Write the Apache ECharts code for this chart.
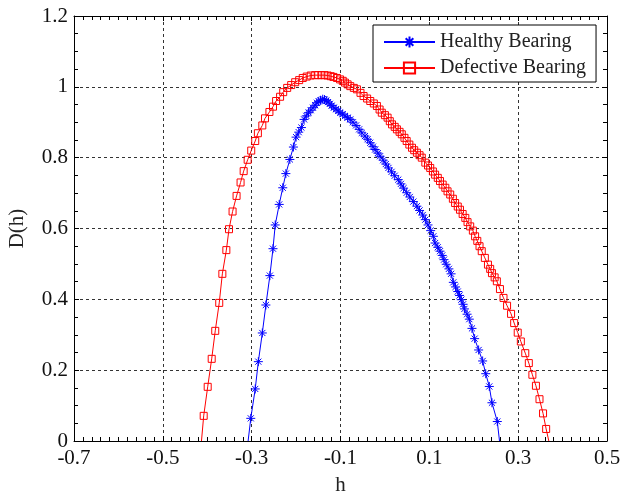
<!DOCTYPE html>
<html>
<head>
<meta charset="utf-8">
<script src="https://cdn.jsdelivr.net/npm/echarts@6/dist/echarts.min.js"></script>
<style>
html,body{margin:0;padding:0;background:#fff;}
#c{width:621px;height:495px;}
</style>
</head>
<body>
<div id="c"></div>
<script>
// Healthy bearing spectrum (h, D(h))
const healthyH = [-0.308,-0.302,-0.292,-0.285,-0.276,-0.268,-0.259,-0.252,-0.247,-0.238,-0.230,-0.223,-0.214,-0.206,-0.200,-0.194,-0.188,-0.182,-0.177,-0.172,-0.167,-0.162,-0.157,-0.153,-0.149,-0.145,-0.140,-0.136,-0.132,-0.128,-0.124,-0.120,-0.115,-0.110,-0.105,-0.101,-0.095,-0.090,-0.084,-0.078,-0.072,-0.065,-0.058,-0.052,-0.045,-0.039,-0.033,-0.027,-0.022,-0.016,-0.011,-0.004,0.002,0.008,0.015,0.022,0.030,0.036,0.042,0.049,0.056,0.064,0.072,0.078,0.085,0.091,0.097,0.103,0.109,0.113,0.119,0.124,0.129,0.133,0.138,0.144,0.149,0.154,0.159,0.164,0.168,0.172,0.176,0.179,0.185,0.190,0.196,0.202,0.211,0.220,0.227,0.235,0.241,0.253,0.258];
const healthyD = [0,0.064,0.147,0.224,0.305,0.384,0.467,0.543,0.610,0.668,0.715,0.755,0.795,0.830,0.858,0.872,0.885,0.908,0.918,0.927,0.934,0.941,0.948,0.955,0.959,0.962,0.965,0.964,0.961,0.957,0.952,0.947,0.941,0.937,0.932,0.927,0.923,0.918,0.913,0.908,0.900,0.891,0.880,0.870,0.861,0.852,0.842,0.831,0.823,0.813,0.804,0.793,0.782,0.771,0.760,0.749,0.738,0.726,0.714,0.701,0.689,0.676,0.663,0.651,0.638,0.625,0.610,0.594,0.578,0.559,0.547,0.536,0.524,0.512,0.499,0.486,0.472,0.448,0.435,0.422,0.411,0.399,0.386,0.373,0.358,0.344,0.318,0.289,0.257,0.226,0.190,0.154,0.108,0.055,0];

// Defective bearing spectrum (h, D(h))
const defectH = [-0.413,-0.408,-0.399,-0.390,-0.382,-0.373,-0.366,-0.357,-0.351,-0.343,-0.334,-0.325,-0.318,-0.309,-0.301,-0.292,-0.286,-0.276,-0.270,-0.260,-0.252,-0.245,-0.236,-0.229,-0.220,-0.211,-0.202,-0.193,-0.185,-0.176,-0.167,-0.157,-0.150,-0.143,-0.136,-0.129,-0.122,-0.116,-0.108,-0.101,-0.095,-0.090,-0.084,-0.078,-0.070,-0.063,-0.055,-0.048,-0.040,-0.033,-0.025,-0.018,-0.012,-0.007,0.000,0.006,0.011,0.016,0.022,0.027,0.033,0.038,0.044,0.049,0.055,0.061,0.066,0.072,0.078,0.083,0.091,0.097,0.102,0.108,0.113,0.119,0.124,0.130,0.136,0.141,0.147,0.153,0.158,0.164,0.169,0.175,0.181,0.186,0.192,0.198,0.203,0.208,0.213,0.218,0.225,0.232,0.237,0.241,0.247,0.252,0.259,0.267,0.275,0.284,0.291,0.299,0.306,0.316,0.324,0.332,0.340,0.348,0.356,0.363,0.369];
const defectD = [0,0.071,0.153,0.232,0.311,0.390,0.472,0.539,0.598,0.648,0.692,0.730,0.762,0.794,0.820,0.847,0.869,0.891,0.911,0.929,0.944,0.960,0.972,0.985,0.997,1.005,1.013,1.019,1.025,1.029,1.032,1.033,1.033,1.033,1.033,1.032,1.030,1.028,1.025,1.021,1.017,1.012,1.007,1.002,0.997,0.993,0.983,0.974,0.967,0.960,0.953,0.946,0.936,0.927,0.920,0.913,0.903,0.894,0.887,0.880,0.873,0.866,0.856,0.847,0.837,0.828,0.821,0.814,0.807,0.800,0.786,0.778,0.771,0.761,0.752,0.743,0.734,0.724,0.715,0.705,0.696,0.684,0.672,0.662,0.653,0.641,0.630,0.618,0.606,0.594,0.578,0.565,0.550,0.536,0.517,0.498,0.486,0.474,0.462,0.451,0.429,0.404,0.382,0.359,0.333,0.306,0.281,0.248,0.220,0.187,0.156,0.118,0.078,0.034,0];

const seriesNames = ['Healthy Bearing', 'Defective Bearing'];
const xLabel = 'h';
const yLabel = 'D(h)';

function pts(xs, ys) {
  return xs.map((x, i) => {
    const item = { value: [x, ys[i]] };
    if (ys[i] === 0) item.symbol = 'none';
    return item;
  });
}

const FONT = 'Liberation Serif';
const starPath = 'path://M5,0L5,10M0,5L10,5M1.6,1.6L8.4,8.4M8.4,1.6L1.6,8.4';

const gridLine = { show: true, lineStyle: { color: '#333', width: 1, type: [3, 3] } };
const axisLineBlack = { show: true, onZero: false, lineStyle: { color: '#000', width: 1 } };

const chart = echarts.init(document.getElementById('c'), null, { renderer: 'canvas' });
chart.setOption({
  animation: false,
  backgroundColor: '#fff',
  textStyle: { fontFamily: FONT },
  grid: { left: 74, right: 14, top: 16, bottom: 54, containLabel: false, outerBoundsMode: 'none' },
  legend: {
    orient: 'vertical',
    left: 373, top: 25,
    padding: [7, 10, 4, 10],
    itemGap: 6,
    itemWidth: 51, itemHeight: 14,
    backgroundColor: '#fff',
    borderColor: '#000', borderWidth: 1, borderRadius: 0,
    textStyle: { fontFamily: FONT, fontSize: 20, color: '#222' },
    data: seriesNames
  },
  xAxis: [{
    type: 'value', min: -0.7, max: 0.5, interval: 0.2,
    name: xLabel, nameLocation: 'middle', nameGap: 34,
    nameTextStyle: { fontFamily: FONT, fontSize: 21, color: '#222' },
    axisLine: axisLineBlack,
    axisTick: { show: true, inside: true, length: 5, lineStyle: { color: '#000' } },
    minorTick: { show: true, splitNumber: 10, length: 4, lineStyle: { color: '#000' } },
    axisLabel: { fontFamily: FONT, fontSize: 21, color: '#111', margin: 7,
      formatter: v => v.toFixed(1) },
    splitLine: gridLine
  }, {
    type: 'value', position: 'top', min: -0.7, max: 0.5, interval: 0.2,
    axisLine: axisLineBlack,
    axisTick: { show: true, inside: true, length: 5, lineStyle: { color: '#000' } },
    minorTick: { show: true, splitNumber: 10, length: 4, lineStyle: { color: '#000' } },
    axisLabel: { show: false }, splitLine: { show: false }
  }],
  yAxis: [{
    type: 'value', min: 0, max: 1.2, interval: 0.2,
    name: yLabel, nameLocation: 'middle', nameGap: 46, nameRotate: 90,
    nameTextStyle: { fontFamily: FONT, fontSize: 21, color: '#222' },
    axisLine: axisLineBlack,
    axisTick: { show: true, inside: true, length: 5, lineStyle: { color: '#000' } },
    minorTick: { show: true, splitNumber: 4, length: 4, lineStyle: { color: '#000' } },
    axisLabel: { fontFamily: FONT, fontSize: 21, color: '#111', margin: 6,
      formatter: v => (Math.abs(v - Math.round(v)) < 1e-9 ? String(Math.round(v)) : v.toFixed(1)) },
    splitLine: gridLine
  }, {
    type: 'value', position: 'right', min: 0, max: 1.2, interval: 0.2,
    axisLine: axisLineBlack,
    axisTick: { show: true, inside: true, length: 5, lineStyle: { color: '#000' } },
    minorTick: { show: true, splitNumber: 4, length: 4, lineStyle: { color: '#000' } },
    axisLabel: { show: false }, splitLine: { show: false }
  }],
  series: [{
    name: seriesNames[0], type: 'line',
    data: pts(healthyH, healthyD),
    symbol: starPath, symbolSize: 9, symbolKeepAspect: true,
    showAllSymbol: true,
    lineStyle: { color: '#0000ff', width: 1 },
    itemStyle: { color: 'rgba(0,0,0,0)', borderColor: '#0000ff', borderWidth: 1 },
    z: 3
  }, {
    name: seriesNames[1], type: 'line',
    data: pts(defectH, defectD),
    symbol: 'rect', symbolSize: 7,
    showAllSymbol: true,
    lineStyle: { color: '#ff0000', width: 1 },
    itemStyle: { color: 'rgba(0,0,0,0)', borderColor: '#ff0000', borderWidth: 1 },
    z: 2
  }]
});
</script>
</body>
</html>
